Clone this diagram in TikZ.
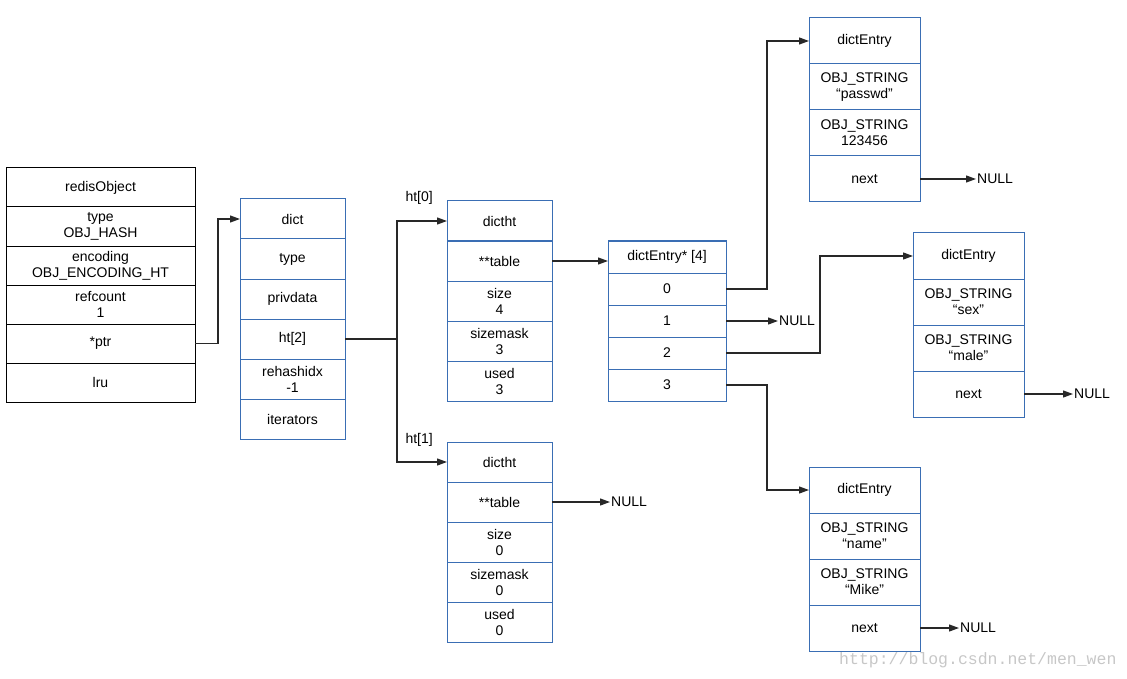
\documentclass[tikz,border=0pt]{standalone}
\usepackage{fontspec}
\setmainfont{Liberation Sans}
\setmonofont{Liberation Mono}
\usepackage{tikz}
\usetikzlibrary{arrows.meta, positioning}
\definecolor{CellBlue}{RGB}{58, 110, 180}
\definecolor{LineGrey}{RGB}{40, 40, 40}
\tikzset{
  cell/.style={rectangle, draw=#1, fill=white, line width=1pt,
               inner sep=0pt, outer sep=0pt, align=center,
               font=\fontsize{14}{16}\selectfont, text=black},
  objcell/.style={cell=black, minimum width=189pt, minimum height=39pt},
  dictcell/.style={cell=CellBlue, minimum width=105pt, minimum height=40pt},
  tblcell/.style={cell=CellBlue, minimum width=118pt, minimum height=32pt},
  entcell/.style={cell=CellBlue, minimum width=111pt, minimum height=46pt},
  arr/.style={-{Triangle[length=10pt, width=7pt]}, line width=1.2pt, color=LineGrey},
  lbl/.style={font=\fontsize{14}{16}\selectfont, inner sep=1pt},
}

\begin{document}
\begin{tikzpicture}[x=1pt, y=1pt]
      \useasboundingbox (0,0) rectangle (1127,-679);

      % redisObject
      \node[objcell, anchor=north west] (obj) at (6,-168) {redisObject};
      \node[objcell, below=0pt of obj] (otype) {type\\OBJ\_HASH};
      \node[objcell, below=0pt of otype] (oenc) {encoding\\OBJ\_ENCODING\_HT};
      \node[objcell, below=0pt of oenc] (oref) {refcount\\1};
      \node[objcell, below=0pt of oref] (optr) {*ptr};
      \node[objcell, below=0pt of optr] (olru) {lru};

      % dict
      \node[dictcell, anchor=north west] (dict) at (240,-199) {dict};
      \node[dictcell, below=0pt of dict] (dtype) {type};
      \node[dictcell, below=0pt of dtype] (dpriv) {privdata};
      \node[dictcell, below=0pt of dpriv] (dht) {ht[2]};
      \node[dictcell, below=0pt of dht] (drehash) {rehashidx\\-1};
      \node[dictcell, below=0pt of drehash] (diter) {iterators};

      % dictht ht[0]
      \node[dictcell, anchor=north west] (hta) at (447,-201) {dictht};
      \node[dictcell, below=0pt of hta] (hatable) {**table};
      \node[dictcell, below=0pt of hatable] (hasize) {size\\4};
      \node[dictcell, below=0pt of hasize] (hamask) {sizemask\\3};
      \node[dictcell, below=0pt of hamask] (haused) {used\\3};

      % dictht ht[1]
      \node[dictcell, anchor=north west] (htb) at (447,-442) {dictht};
      \node[dictcell, below=0pt of htb] (hbtable) {**table};
      \node[dictcell, below=0pt of hbtable] (hbsize) {size\\0};
      \node[dictcell, below=0pt of hbsize] (hbmask) {sizemask\\0};
      \node[dictcell, below=0pt of hbmask] (hbused) {used\\0};

      % bucket array
      \node[tblcell, anchor=north west] (tbl) at (608,-241) {dictEntry* [4]};
      \node[tblcell, below=0pt of tbl] (b0) {0};
      \node[tblcell, below=0pt of b0] (b1) {1};
      \node[tblcell, below=0pt of b1] (b2) {2};
      \node[tblcell, below=0pt of b2] (b3) {3};

      % entries
      \node[entcell, anchor=north west] (ea) at (809,-18) {dictEntry};
      \node[entcell, below=0pt of ea] (eakey) {OBJ\_STRING\\“passwd”};
      \node[entcell, below=0pt of eakey] (eaval) {OBJ\_STRING\\123456};
      \node[entcell, below=0pt of eaval] (eanext) {next};

      \node[entcell, anchor=north west] (eb) at (913,-233) {dictEntry};
      \node[entcell, below=0pt of eb] (ebkey) {OBJ\_STRING\\“sex”};
      \node[entcell, below=0pt of ebkey] (ebval) {OBJ\_STRING\\“male”};
      \node[entcell, below=0pt of ebval] (ebnext) {next};

      \node[entcell, anchor=north west] (ec) at (809,-467) {dictEntry};
      \node[entcell, below=0pt of ec] (eckey) {OBJ\_STRING\\“name”};
      \node[entcell, below=0pt of eckey] (ecval) {OBJ\_STRING\\“Mike”};
      \node[entcell, below=0pt of ecval] (ecnext) {next};

      % NULL ends
      \node[lbl, right=52pt of b1] (nullb) {NULL};
      \node[lbl, right=58pt of hbtable] (nullt) {NULL};
      \node[lbl, right=56pt of eanext] (nulla) {NULL};
      \node[lbl, right=49pt of ebnext] (nullbb) {NULL};
      \node[lbl, right=39pt of ecnext] (nullc) {NULL};

      % table labels
      \node[lbl, anchor=east] (lbla) at ([xshift=-13pt, yshift=3pt]hta.north west) {ht[0]};
      \node[lbl, anchor=east] (lblb) at ([xshift=-13pt, yshift=2pt]htb.north west) {ht[1]};

      % pointers
      \draw[arr] (optr.east) -- ++(23,0) |- (dict.west);
      \draw[arr] (dht.east) -- ++(52,0) |- (hta.west);
      \draw[arr] (dht.east) -- ++(52,0) |- (htb.west);
      \draw[arr] (hatable.east) -- (hatable.east -| tbl.west);
      \draw[arr] (hbtable.east) -- (nullt.west);
      \draw[arr] (b0.east) -- ++(41,0) |- (ea.west);
      \draw[arr] (b1.east) -- (nullb.west);
      \draw[arr] (b2.east) -- ++(94,0) |- (eb.west);
      \draw[arr] (b3.east) -- ++(41,0) |- (ec.west);
      \draw[arr] (eanext.east) -- (nulla.west);
      \draw[arr] (ebnext.east) -- (nullbb.west);
      \draw[arr] (ecnext.east) -- (nullc.west);

      % watermark
      \node[font=\ttfamily\fontsize{16.5}{18}\selectfont, text=black!22, anchor=east] (wm) at (1120,-660) {http://blog.csdn.net/men\_wen};
\end{tikzpicture}
\end{document}
